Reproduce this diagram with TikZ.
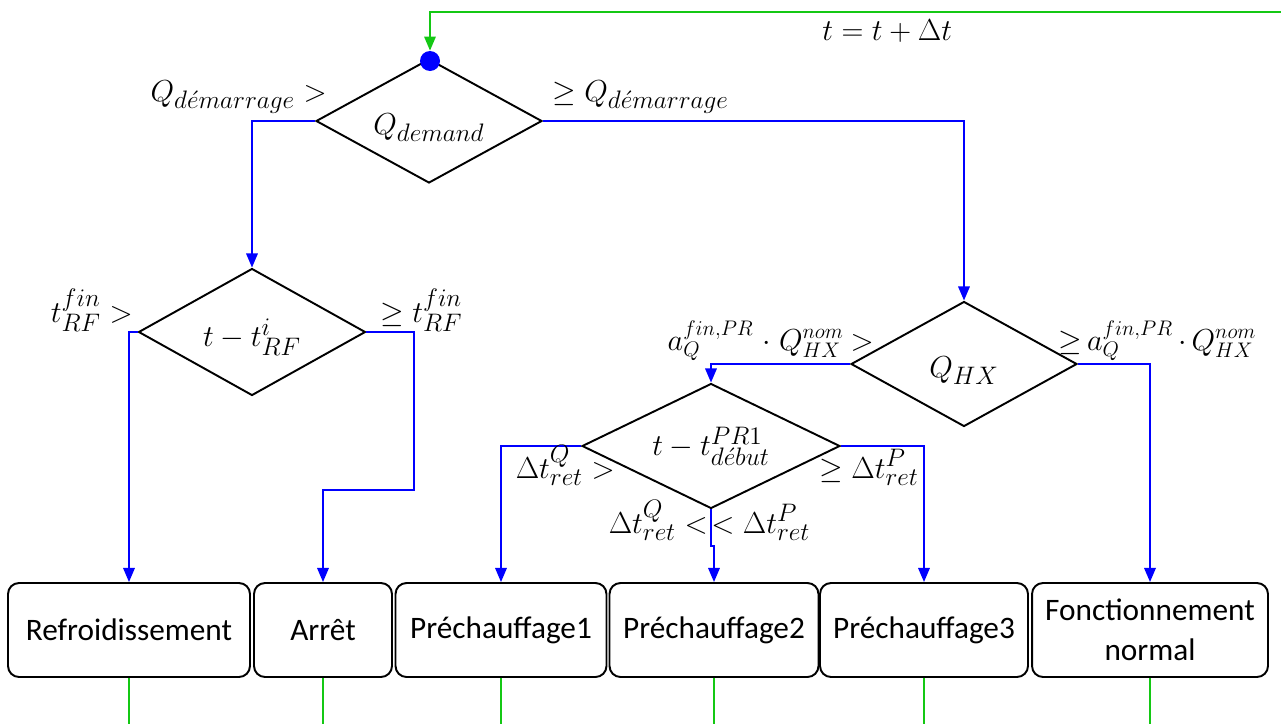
\documentclass[tikz,border=0pt]{standalone}
\usepackage[no-math]{fontspec}
\setmainfont{Carlito}
\usetikzlibrary{shapes.geometric,arrows.meta}
\definecolor{loopgreen}{RGB}{20,200,20}
\DeclareMathSizes{18.5}{18.5}{14}{11}
\DeclareMathSizes{17}{17}{13}{10}
\begin{document}
\begin{tikzpicture}[x=0.02cm,y=-0.02cm,
  dec/.style={diamond,draw=black,line width=1.1pt,inner sep=0pt,text height=0pt,text depth=0pt,font=\fontsize{18.5}{22}\selectfont},
  box/.style={draw=black,line width=1.1pt,rounded corners=0.22cm,minimum height=1.88cm,align=center,font=\fontsize{17.8}{22.7}\selectfont,inner sep=0pt},
  conn/.style={draw=blue,line width=1.1pt,-{Triangle[length=8pt,width=6.5pt]}},
  gline/.style={draw=loopgreen,line width=1.1pt},
  lab/.style={inner sep=0pt,font=\fontsize{18.5}{22}\selectfont},
  slab/.style={inner sep=0pt,font=\fontsize{17}{20}\selectfont}]
\useasboundingbox (0,0) rectangle (1281,724);
% decisions
\node[dec,minimum width=4.52cm,minimum height=2.48cm] (d1) at (429,121) {\raisebox{-0.4em}{$Q_{demand}$}};
\node[dec,minimum width=4.54cm,minimum height=2.54cm] (d2) at (252,332) {\raisebox{-0.45em}{$t-t^{i}_{RF}$}};
\node[dec,minimum width=4.52cm,minimum height=2.5cm] (d3) at (964,364) {\raisebox{-0.42em}{$Q_{HX}$}};
\node[dec,minimum width=5.16cm,minimum height=2.5cm] (d4) at (711,446) {\raisebox{-0.3em}{$t-t^{PR1}_{d\acute{e}but}$}};
\node[circle,fill=blue,inner sep=0pt,minimum size=0.4cm] (dot) at (430,61) {};
% states
\node[box,minimum width=4.84cm] (refr) at (129,630) {Refroidissement};
\node[box,minimum width=2.76cm] (arret) at (323,630) {Arrêt};
\node[box,minimum width=4.22cm] (pre1) at (501,630) {Préchauffage1};
\node[box,minimum width=4.18cm] (pre2) at (714,630) {Préchauffage2};
\node[box,minimum width=4.16cm] (pre3) at (924,630) {Préchauffage3};
\node[box,minimum width=4.72cm] (fonc) at (1150,630) {Fonctionnement\\normal};
% loop
\coordinate (loopin) at (1281,12);
\draw[gline,-{Triangle[length=8pt,width=6.5pt]}] (loopin) -| (dot.north);
\node[lab,anchor=base west] (tinc) at (822,40) {$t=t+\Delta t$};
% connectors
\draw[conn] (d1.west) -| (d2.north);
\draw[conn] (d1.east) -| (d3.north);
\draw[conn] (d2.west) -| (refr.north);
\draw[conn] (d2.east) -- ++(48,0) -- ++(0,158) -| (arret.north);
\draw[conn] (d3.west) -| (d4.north);
\draw[conn] (d3.east) -| (fonc.north);
\draw[conn] (d4.west) -| (pre1.north);
\draw[conn] (d4.east) -| (pre3.north);
\draw[conn] (d4.south) -- ++(0,37) -- ++(3,0) -- (pre2.north);
% outgoing green lines
\foreach \b in {refr,arret,pre1,pre2,pre3,fonc}
  \draw[gline] (\b.south) -- ++(0,46);
% labels
\node[lab,anchor=base east] (l1) at (327,101) {$Q_{d\acute{e}marrage}>$};
\node[lab,anchor=base west] (r1) at (552,101) {$\geq Q_{d\acute{e}marrage}$};
\node[lab,anchor=base east] (l2) at (133,322) {$t^{fin}_{RF}>$};
\node[lab,anchor=base west] (r2) at (380,322) {$\geq t^{fin}_{RF}$};
\node[slab,anchor=base east] (l3) at (874,350) {$a^{fin,PR}_{Q}\mkern5mu{\cdot}\mkern5mu Q^{nom}_{HX}\mkern4mu{>}$};
\node[slab,anchor=base west] (r3) at (1058,350) {${\geq}\mkern3mu a^{fin,PR}_{Q}\mkern3mu{\cdot}\mkern3mu Q^{nom}_{HX}$};
\node[lab,anchor=base east] (l4) at (615,478) {$\Delta t^{Q}_{ret}>$};
\node[lab,anchor=base west] (r4) at (819,478) {$\geq \Delta t^{P}_{ret}$};
\node[lab,anchor=base east] (b4l) at (708,533) {$\Delta t^{Q}_{ret}<$};
\node[lab,anchor=base west] (b4r) at (711,533) {$<\Delta t^{P}_{ret}$};
\end{tikzpicture}
\end{document}
